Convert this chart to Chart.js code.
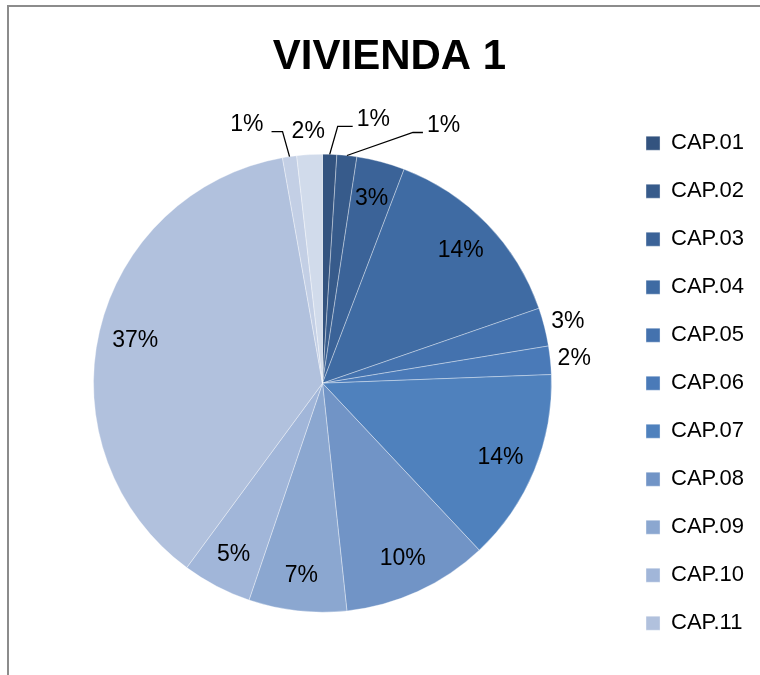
<!DOCTYPE html>
<html>
<head>
<meta charset="utf-8">
<script src="https://cdn.jsdelivr.net/npm/chart.js@4.4.1/dist/chart.umd.min.js"></script>
<style>
    html, body { margin: 0; padding: 0; background: #fff; overflow: hidden; }
    #frame {
        position: absolute; left: 7px; top: 5px;
        width: 780px; height: 720px;
        border-left: 2px solid #8c8c8c; border-top: 2px solid #8c8c8c;
    }
    canvas { display: block; }
</style>
</head>
<body>
<div id="frame"><canvas id="vivienda-chart" width="751" height="700"></canvas></div>
<script>
// datos
var labels = ['CAP.01', 'CAP.02', 'CAP.03', 'CAP.04', 'CAP.05', 'CAP.06', 'CAP.07',
              'CAP.08', 'CAP.09', 'CAP.10', 'CAP.11', 'CAP.12', 'CAP.13'];
var values = [1.0, 1.4, 3.4, 13.9, 2.7, 2.0, 13.6, 10.3, 6.9, 4.9, 37.1, 1.0, 1.8];
var colors = ['#33537f', '#375b8b', '#3b6398', '#3f6ba3', '#4472ae', '#4a7ab8', '#4f81bd',
              '#7194c6', '#8ba7d0', '#a1b6d9', '#b1c1dd', '#c3cfe5', '#d1dbeb'];
var legendCount = 11;

// donde va cada etiqueta: dentro, fuera, o fuera con linea guia
var labelMode = ['leader', 'leader', 'in', 'in', 'out', 'out', 'in', 'in', 'in', 'in', 'in', 'leader', 'out'];
var leaders = {
    0: { dx: 8, dy: -28, tail: 15 },
    1: { dx: 66, dy: -23, tail: 10 },
    11: { dx: -7, dy: -25, tail: -11 }
};

var total = values.reduce(function (a, b) { return a + b; }, 0);

var pieLabels = {
    id: 'pieLabels',
    afterDatasetsDraw: function (chart) {
        var ctx = chart.ctx;
        var arcs = chart.getDatasetMeta(0).data;
        ctx.save();
        ctx.font = '23px "Liberation Sans", Arial, sans-serif';
        ctx.fillStyle = '#000';
        ctx.strokeStyle = '#000';
        ctx.lineWidth = 1.3;
        ctx.textBaseline = 'middle';
        arcs.forEach(function (arc, i) {
            var text = Math.round(values[i] / total * 100) + '%';
            var p = arc.getProps(['x', 'y', 'startAngle', 'endAngle', 'outerRadius'], true);
            var mid = (p.startAngle + p.endAngle) / 2;
            var cos = Math.cos(mid), sin = Math.sin(mid);
            var r = p.outerRadius;
            if (labelMode[i] === 'in') {
                ctx.textAlign = 'center';
                ctx.fillText(text, p.x + cos * r * 0.84, p.y + sin * r * 0.84 + 1);
            } else if (labelMode[i] === 'out') {
                ctx.textAlign = 'center';
                ctx.fillText(text, p.x + cos * (r + 24), p.y + sin * (r + 24) + 1);
            } else {
                var l = leaders[i];
                var sx = p.x + cos * r, sy = p.y + sin * r;
                var ex = sx + l.dx, ey = sy + l.dy;
                var tx = ex + l.tail;
                ctx.beginPath();
                ctx.moveTo(sx, sy);
                ctx.lineTo(ex, ey);
                ctx.lineTo(tx, ey);
                ctx.stroke();
                ctx.textAlign = l.tail > 0 ? 'left' : 'right';
                ctx.fillText(text, tx + (l.tail > 0 ? 4 : -8), ey - 7);
            }
        });
        ctx.restore();
    }
};

var ctx = document.getElementById('vivienda-chart').getContext('2d');
var vivienda_chart = new Chart(ctx, {
    type: 'pie',
    data: {
        labels: labels,
        datasets: [{
            data: values,
            backgroundColor: colors,
            borderColor: 'rgba(255,255,255,0.35)',
            borderWidth: 1,
            radius: 229
        }]
    },
    options: {
        responsive: false,
        animation: false,
        layout: {
            padding: { left: 16, right: 6, top: 0, bottom: 43 }
        },
        plugins: {
            title: {
                display: true,
                text: 'VIVIENDA 1',
                color: '#000',
                font: { family: '"Liberation Sans", Arial, sans-serif', size: 42, weight: 'bold' },
                padding: { top: 25, bottom: 20 }
            },
            legend: {
                position: 'right',
                fullSize: false,
                labels: {
                    color: '#000',
                    font: { family: '"Liberation Sans", Arial, sans-serif', size: 22 },
                    boxWidth: 14,
                    boxHeight: 14,
                    padding: 26,
                    filter: function (item) { return item.index < legendCount; }
                }
            },
            tooltip: { enabled: false }
        }
    },
    plugins: [pieLabels]
});
</script>
</body>
</html>
